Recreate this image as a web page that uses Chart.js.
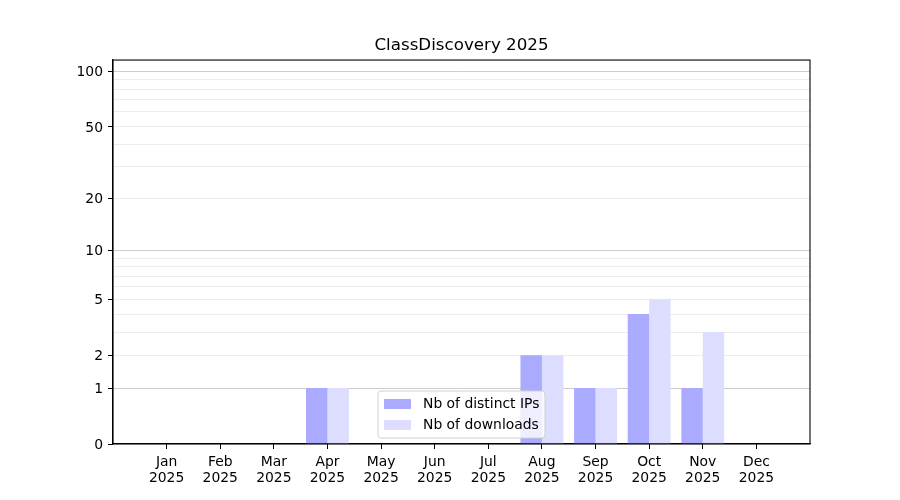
<!DOCTYPE html>
<html>
<head>
<meta charset="utf-8">
<script src="https://cdn.jsdelivr.net/npm/chart.js@4/dist/chart.umd.min.js"></script>
<style>
  html, body { margin: 0; padding: 0; background: #fff; }
  #wrap { width: 900px; height: 500px; }
</style>
</head>
<body>
<div id="wrap"><canvas id="chart1"></canvas></div>
<script>
// data
const months = ['Jan', 'Feb', 'Mar', 'Apr', 'May', 'Jun', 'Jul', 'Aug', 'Sep', 'Oct', 'Nov', 'Dec'];
const year = '2025';
const distinctIPs = [0, 0, 0, 1, 0, 0, 0, 2, 1, 4, 1, 0];
const downloads = [0, 0, 0, 1, 0, 0, 0, 2, 1, 5, 3, 0];
const yMajorTicks = [0, 1, 2, 5, 10, 20, 50, 100];
const yMinorTicks = [3, 4, 6, 7, 8, 9, 30, 40, 60, 70, 80, 90];
const yMax = 115;

const FONT = "'DejaVu Sans', sans-serif";

// y scale : log10(v + 1), like the reference axis
class Log1pScale extends Chart.Scale {
  static id = 'log1p';
  static defaults = {};
  determineDataLimits() {
    this.min = this.options.min ?? 0;
    this.max = this.options.max ?? 100;
  }
  buildTicks() {
    let all = yMajorTicks.concat(yMinorTicks).sort((a, b) => a - b);
    return all.map(v => ({ value: v, major: yMajorTicks.includes(v) }));
  }
  configure() {
    super.configure();
    this._start = Math.log10(this.min + 1);
    this._range = Math.log10(this.max + 1) - this._start;
  }
  getLabelForValue(v) { return String(v); }
  getPixelForValue(v) {
    return this.getPixelForDecimal((Math.log10(v + 1) - this._start) / this._range);
  }
  getValueForPixel(p) {
    return Math.pow(10, this._start + this.getDecimalForPixel(p) * this._range) - 1;
  }
}
Chart.register(Log1pScale);

function toPoints(arr) {
  return arr.map((v, i) => ({ x: i, y: v }));
}

// frame around the plot + legend box inside
const framePlugin = {
  id: 'frame',
  afterDatasetsDraw(chart) {
    const ctx = chart.ctx;
    const ca = chart.chartArea;
    ctx.save();
    ctx.strokeStyle = '#000';
    ctx.lineWidth = 1.1;
    ctx.strokeRect(ca.left, ca.top, ca.right - ca.left, ca.bottom - ca.top);

    // legend
    let lx = ca.left + 265, ly = ca.bottom - 53, lw = 167, lh = 47;
    ctx.beginPath();
    ctx.roundRect(lx, ly, lw, lh, 3);
    ctx.fillStyle = 'rgba(255,255,255,0.8)';
    ctx.fill();
    ctx.strokeStyle = '#d0d0d0';
    ctx.lineWidth = 1;
    ctx.stroke();
    ctx.font = '13.9px ' + FONT;
    ctx.textBaseline = 'middle';
    chart.data.datasets.forEach((ds, i) => {
      let y = ly + 8 + i * 21;
      ctx.fillStyle = ds.backgroundColor;
      ctx.fillRect(lx + 6, y, 27, 10);
      ctx.fillStyle = '#000';
      ctx.fillText(ds.label, lx + 45, y + 5);
    });
    ctx.restore();
  }
};

let canvas1 = document.getElementById('chart1');

let myChart1 = new Chart(canvas1, {
  type: 'bar',
  data: {
    datasets: [{
      label: 'Nb of distinct IPs',
      data: toPoints(distinctIPs),
      backgroundColor: '#aaaaff'
    }, {
      label: 'Nb of downloads',
      data: toPoints(downloads),
      backgroundColor: '#ddddff'
    }]
  },
  options: {
    responsive: true,
    maintainAspectRatio: false,
    animation: false,
    categoryPercentage: 0.8,
    barPercentage: 1.0,
    layout: { padding: { left: 0, right: 90, top: 0, bottom: 0 } },
    plugins: {
      legend: { display: false },
      tooltip: { enabled: false },
      title: {
        display: true,
        fullSize: false,
        text: 'ClassDiscovery 2025',
        color: '#000',
        font: { family: FONT, size: 16.7, weight: 'normal', lineHeight: 1.2 },
        padding: { top: 36, bottom: 4 }
      }
    },
    scales: {
      x: {
        type: 'linear',
        min: -1,
        max: 12,
        offset: false,
        afterBuildTicks: (scale) => {
          scale.ticks = months.map((m, i) => ({ value: i }));
        },
        afterFit: (scale) => { scale.height = 56; },
        ticks: {
          autoSkip: false,
          maxRotation: 0,
          padding: 5,
          color: '#000',
          font: { family: FONT, size: 13.9, lineHeight: 1.15 },
          callback: (v) => [months[v], year]
        },
        grid: {
          offset: false,
          drawOnChartArea: false,
          drawTicks: true,
          tickLength: 5,
          tickColor: '#000'
        },
        border: { display: true, color: '#000', width: 1.1 }
      },
      y: {
        type: 'log1p',
        min: 0,
        max: yMax,
        afterFit: (scale) => { scale.width = 113; },
        ticks: {
          padding: 5,
          labelOffset: 1.5,
          color: '#000',
          font: { family: FONT, size: 13.9 },
          callback: (v) => yMajorTicks.includes(v) ? String(v) : ''
        },
        grid: {
          tickLength: 5,
          lineWidth: 1,
          color: (c) => {
            let v = c.tick ? c.tick.value : null;
            if (v === 0) return 'rgba(0,0,0,0)';
            if (v === 1 || v === 10 || v === 100) return '#cccccc';
            return '#ececec';
          },
          tickColor: (c) => {
            let v = c.tick ? c.tick.value : null;
            return yMajorTicks.includes(v) ? '#000' : 'rgba(0,0,0,0)';
          }
        },
        border: { display: true, color: '#000', width: 1.1 }
      }
    }
  },
  plugins: [framePlugin]
});
</script>
</body>
</html>
